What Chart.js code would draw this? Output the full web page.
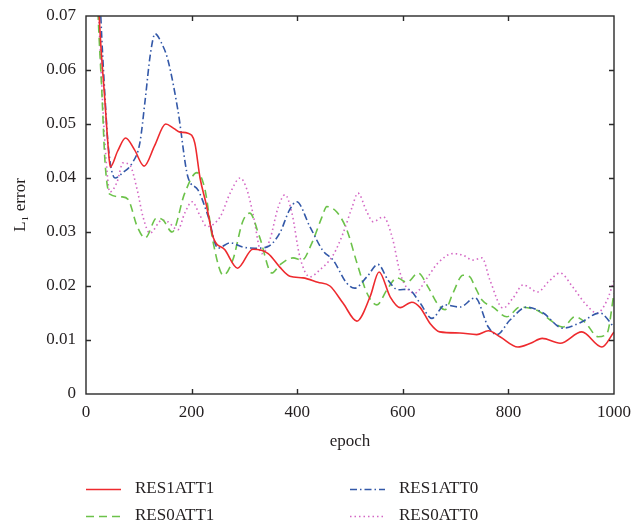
<!DOCTYPE html>
<html>
<head>
<meta charset="utf-8">
<script src="https://cdn.jsdelivr.net/npm/chart.js@4/dist/chart.umd.min.js"></script>
<style>
html,body{margin:0;padding:0;background:#fff;}
#wrap{width:636px;height:528px;position:relative;}
</style>
</head>
<body>
<div id="wrap"><canvas id="c" width="636" height="528"></canvas></div>
<script>
const seriesLabels = ['RES1ATT1', 'RES1ATT0', 'RES0ATT1', 'RES0ATT0'];
const xTickValues = [0, 200, 400, 600, 800, 1000];
const yTickValues = [0, 0.01, 0.02, 0.03, 0.04, 0.05, 0.06, 0.07];

const res1att1Epochs = [22,25,36,42,46,60,75,92,110,130,151,166,178,193,206,216,228,241,263,287,316,345,367,386,411,439,462,487,513,538,555,576,595,617,633,652,670,708,740,762,784,818,842,864,898,939,977,1000];
const res1att1Values = [0.078,0.07,0.054,0.0457,0.042,0.045,0.0474,0.0452,0.0422,0.046,0.050,0.0492,0.0485,0.0483,0.0465,0.040,0.035,0.029,0.0267,0.0233,0.0268,0.026,0.0235,0.0218,0.0215,0.0207,0.020,0.0168,0.0135,0.018,0.0226,0.018,0.016,0.017,0.016,0.013,0.0115,0.0113,0.011,0.0117,0.0106,0.0087,0.0094,0.0103,0.0094,0.0115,0.0087,0.0115];

const res1att0Epochs = [25,28,36,42,55,70,87,102,112,122,131,143,155,174,193,212,231,250,273,297,320,342,367,385,399,424,449,468,494,509,532,553,572,591,610,633,655,680,708,737,762,778,803,835,866,903,936,973,1000];
const res1att0Values = [0.078,0.07,0.055,0.046,0.040,0.041,0.0427,0.0465,0.0544,0.063,0.0667,0.065,0.0619,0.0526,0.0402,0.0378,0.033,0.027,0.028,0.0272,0.027,0.0272,0.0298,0.034,0.0356,0.031,0.0265,0.0248,0.0205,0.0196,0.0217,0.024,0.0211,0.0193,0.0194,0.0168,0.014,0.0165,0.0161,0.0178,0.0124,0.011,0.0137,0.0161,0.015,0.0122,0.0132,0.015,0.0124];

const res0att1Epochs = [20,23,30,36,45,68,80,97,112,134,146,163,187,210,225,241,260,278,297,310,329,352,367,392,409,428,447,456,475,494,513,532,551,570,589,608,629,648,665,680,695,714,727,737,750,771,797,822,860,879,903,926,945,970,987,1000];
const res0att1Values = [0.078,0.07,0.056,0.043,0.037,0.0365,0.036,0.031,0.0289,0.0326,0.0322,0.030,0.0372,0.041,0.038,0.028,0.022,0.0248,0.032,0.0335,0.029,0.0224,0.0239,0.0252,0.0248,0.028,0.0328,0.0347,0.0337,0.0304,0.0243,0.0187,0.0165,0.0193,0.0215,0.0207,0.0224,0.0198,0.0168,0.0156,0.0187,0.022,0.0217,0.0198,0.0174,0.0161,0.0143,0.0161,0.0152,0.0137,0.0124,0.0143,0.0133,0.0106,0.0113,0.0187];

const res0att0Epochs = [20,24,32,40,45,59,70,83,97,108,121,144,155,174,187,201,216,229,254,273,292,305,316,333,348,364,377,390,405,424,443,468,487,504,515,532,544,563,580,595,608,623,646,667,695,714,733,750,765,790,809,828,856,875,898,922,945,968,987,1000];
const res0att0Values = [0.078,0.07,0.053,0.041,0.0374,0.0393,0.0428,0.0424,0.0378,0.0328,0.0298,0.0322,0.0319,0.0304,0.0335,0.0356,0.033,0.031,0.0328,0.0372,0.040,0.0378,0.0335,0.026,0.0285,0.0346,0.0369,0.0335,0.0254,0.0217,0.023,0.0257,0.0298,0.0346,0.0372,0.0337,0.0319,0.0328,0.029,0.0224,0.0196,0.0187,0.0215,0.0243,0.026,0.0257,0.0248,0.0252,0.0211,0.0159,0.0178,0.0202,0.0189,0.0207,0.0224,0.0198,0.0168,0.015,0.0174,0.021];

function pts(xs, ys){ return xs.map((x,i)=>({x:x, y:ys[i]})); }

const FONT = "'Liberation Serif', 'DejaVu Serif', serif";
const TEXT = '#231f20';

const styles = [
  {color:'#ee2a2e', dash:[]},
  {color:'#3358a8', dash:[7,3,1.5,3]},
  {color:'#6cc24a', dash:[8,5]},
  {color:'#d467c4', dash:[1.5,3]}
];

const datasets = [
  pts(res1att1Epochs, res1att1Values),
  pts(res1att0Epochs, res1att0Values),
  pts(res0att1Epochs, res0att1Values),
  pts(res0att0Epochs, res0att0Values)
].map((d,i)=>({
  label: seriesLabels[i],
  data: d,
  borderColor: styles[i].color,
  backgroundColor: styles[i].color,
  borderDash: styles[i].dash,
  borderWidth: 1.6,
  pointRadius: 0,
  fill: false,
  order: i,
  cubicInterpolationMode: 'monotone'
}));

const framePlugin = {
  id: 'frame',
  afterDatasetsDraw(chart){
    const {ctx, chartArea: a, scales} = chart;
    ctx.save();
    ctx.strokeStyle = '#2a2a2a';
    ctx.lineWidth = 1.4;
    ctx.setLineDash([]);
    ctx.strokeRect(a.left, a.top, a.right - a.left, a.bottom - a.top);
    const L = 5;
    ctx.beginPath();
    xTickValues.forEach(v=>{
      if (v === 0 || v === 1000) return;
      const px = Math.round(scales.x.getPixelForValue(v)) + 0.5;
      ctx.moveTo(px, a.bottom); ctx.lineTo(px, a.bottom - L);
      ctx.moveTo(px, a.top); ctx.lineTo(px, a.top + L);
    });
    yTickValues.forEach(v=>{
      if (v === 0 || v === 0.07) return;
      const py = Math.round(scales.y.getPixelForValue(v)) + 0.5;
      ctx.moveTo(a.left, py); ctx.lineTo(a.left + L, py);
      ctx.moveTo(a.right, py); ctx.lineTo(a.right - L, py);
    });
    ctx.stroke();
    ctx.restore();
  }
};

const legendPlugin = {
  id: 'customLegend',
  afterDraw(chart){
    const ctx = chart.ctx;
    const cols = [86, 350];
    const rows = [489, 516];
    const layout = [[0,0],[1,0],[0,1],[1,1]];
    ctx.save();
    chart.data.datasets.forEach((ds,i)=>{
      const [c,r] = layout[i];
      const x = cols[c], y = rows[r];
      ctx.strokeStyle = ds.borderColor;
      ctx.lineWidth = 1.5;
      ctx.setLineDash(ds.borderDash || []);
      ctx.beginPath();
      ctx.moveTo(x, y + 0.5); ctx.lineTo(x + 35, y + 0.5);
      ctx.stroke();
      ctx.setLineDash([]);
      ctx.fillStyle = TEXT;
      ctx.font = "17px " + FONT;
      ctx.textBaseline = 'middle';
      ctx.textAlign = 'left';
      ctx.fillText(ds.label, x + 49, y);
    });
    ctx.restore();
  }
};

new Chart(document.getElementById('c'), {
  type: 'line',
  data: { datasets },
  options: {
    responsive: false,
    animation: false,
    layout: { padding: { top: 16, right: 22, bottom: 74, left: 0 } },
    plugins: { legend: { display: false }, tooltip: { enabled: false } },
    scales: {
      x: {
        type: 'linear', min: 0, max: 1000,
        afterBuildTicks(s){ s.ticks = xTickValues.map(v=>({value:v})); },
        afterFit(s){ s.height = 60; s.paddingLeft = 0; s.paddingRight = 0; },
        grid: { display: false, drawTicks: false },
        border: { display: false },
        ticks: { color: TEXT, font: { family: FONT, size: 17 }, padding: 8, maxRotation: 0,
                 callback: v => String(v) },
        title: { display: true, text: 'epoch', color: TEXT, font: { family: FONT, size: 17 }, padding: { top: 6, bottom: 2 } }
      },
      y: {
        type: 'linear', min: 0, max: 0.07,
        afterBuildTicks(s){ s.ticks = yTickValues.map(v=>({value:v})); },
        afterFit(s){ s.width = 86; s.paddingTop = 0; s.paddingBottom = 0; },
        grid: { display: false, drawTicks: false },
        border: { display: false },
        ticks: { color: TEXT, font: { family: FONT, size: 17 }, padding: 10,
                 callback: v => v === 0 ? '0' : (+v).toFixed(2) },
        title: { display: true, text: 'L\u2081 error', color: TEXT, font: { family: FONT, size: 17 }, padding: { top: 10, bottom: 4 } }
      }
    }
  },
  plugins: [framePlugin, legendPlugin]
});
</script>
</body>
</html>
